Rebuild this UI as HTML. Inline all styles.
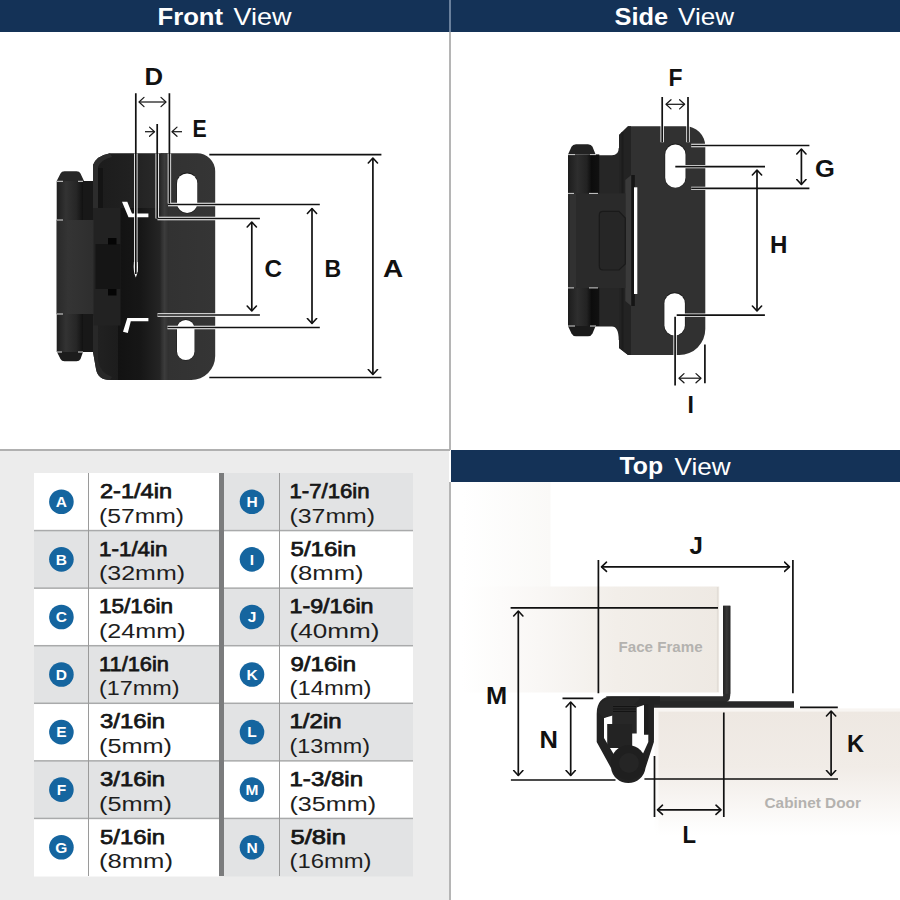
<!DOCTYPE html>
<html><head><meta charset="utf-8"><style>
html,body{margin:0;padding:0;background:#fff;width:900px;height:900px;overflow:hidden}
svg{display:block}
text{font-family:"Liberation Sans",sans-serif}
.hb{font-weight:bold;font-size:24.5px;fill:#fff}
.hr{font-weight:normal;font-size:24.5px;fill:#fff}
.lb{font-weight:bold;font-size:24.5px;fill:#111}
.cl{font-weight:bold;font-size:15.5px;fill:#fff;text-anchor:middle}
.tb{font-weight:normal;font-size:20.8px;fill:#161616;stroke:#161616;stroke-width:0.75px}
.tr{font-weight:normal;font-size:20px;fill:#1e1e1e}
.wood{font-weight:bold;font-size:14.3px;fill:#b4b2af}
</style></head><body>
<svg width="900" height="900" viewBox="0 0 900 900">
<defs>
<linearGradient id="gBarrel" x1="0" x2="1" y1="0" y2="0">
  <stop offset="0" stop-color="#1e1e1e"/><stop offset="0.35" stop-color="#333"/><stop offset="0.75" stop-color="#262626"/><stop offset="1" stop-color="#111"/>
</linearGradient>
<linearGradient id="gLowBarrel" x1="0" x2="1" y1="0" y2="0">
  <stop offset="0" stop-color="#2a2a2a"/><stop offset="0.3" stop-color="#343434"/><stop offset="1" stop-color="#2e2e2e"/>
</linearGradient>
<linearGradient id="gPlateF" x1="0" x2="1" y1="0" y2="0">
  <stop offset="0" stop-color="#222"/><stop offset="0.3" stop-color="#1a1a1a"/><stop offset="0.55" stop-color="#262626"/><stop offset="0.62" stop-color="#323232"/><stop offset="1" stop-color="#353535"/>
</linearGradient>
<linearGradient id="gBlock" x1="0" x2="1" y1="0" y2="0">
  <stop offset="0" stop-color="#242424"/><stop offset="0.6" stop-color="#161616"/><stop offset="1" stop-color="#1c1c1c"/>
</linearGradient>
<marker id="ah" viewBox="-6 -6 12 12" markerWidth="12" markerHeight="12" refX="0" refY="0" orient="auto-start-reverse" markerUnits="userSpaceOnUse">
  <path d="M-5,-4.6 L0,0 L-5,4.6" fill="none" stroke="#111" stroke-width="1.6" stroke-linecap="round" stroke-linejoin="round"/>
</marker>
<linearGradient id="gSideBarrel" x1="0" x2="1" y1="0" y2="0">
  <stop offset="0" stop-color="#1c1c1c"/><stop offset="0.3" stop-color="#2e2e2e"/><stop offset="0.6" stop-color="#222"/><stop offset="0.75" stop-color="#0c0c0c"/><stop offset="1" stop-color="#111"/>
</linearGradient>
<linearGradient id="gFF" x1="0" x2="1" y1="0" y2="0">
  <stop offset="0" stop-color="#fff"/><stop offset="0.3" stop-color="#f9f7f5"/><stop offset="0.6" stop-color="#f2eee9"/><stop offset="1" stop-color="#eee9e3"/>
</linearGradient>
<linearGradient id="gFV" x1="0" x2="1" y1="0" y2="0">
  <stop offset="0" stop-color="#fff"/><stop offset="1" stop-color="#faf9f7"/>
</linearGradient>
<linearGradient id="gCD" x1="0" x2="0" y1="0" y2="1">
  <stop offset="0" stop-color="#eee8e2"/><stop offset="0.45" stop-color="#f1ece7"/><stop offset="1" stop-color="#fff"/>
</linearGradient>
<linearGradient id="gFFb" x1="0" x2="1" y1="0" y2="0">
  <stop offset="0" stop-color="#fff" stop-opacity="0"/><stop offset="0.4" stop-color="#f0ece7"/><stop offset="1" stop-color="#e6e1db"/>
</linearGradient>
<linearGradient id="gCDo" x1="0" x2="0" y1="0" y2="1">
  <stop offset="0" stop-color="#f8f5f2"/><stop offset="0.5" stop-color="#faf8f6"/><stop offset="1" stop-color="#fff"/>
</linearGradient>
<linearGradient id="gPlateTop" x1="0" x2="1" y1="0" y2="0">
  <stop offset="0" stop-color="#1c1c1c"/><stop offset="0.5" stop-color="#202020"/><stop offset="1" stop-color="#2a2a2a"/>
</linearGradient>
<linearGradient id="gMid" x1="0" x2="1" y1="0" y2="0">
  <stop offset="0" stop-color="#121212"/><stop offset="0.5" stop-color="#161616"/><stop offset="1" stop-color="#262626"/>
</linearGradient>
<linearGradient id="gStrip" x1="0" x2="1" y1="0" y2="0">
  <stop offset="0" stop-color="#2a2a2a"/><stop offset="0.5" stop-color="#3c3c3c"/><stop offset="1" stop-color="#303030"/>
</linearGradient>
<marker id="ahs" viewBox="-6 -6 12 12" markerWidth="12" markerHeight="12" refX="0" refY="0" orient="auto-start-reverse" markerUnits="userSpaceOnUse">
  <path d="M-5,-4.6 L0,0 L-5,4.6" fill="none" stroke="#1a1a1a" stroke-width="1.25" stroke-linecap="round" stroke-linejoin="round"/>
</marker>
<linearGradient id="gArm" x1="0" x2="1" y1="0" y2="0">
  <stop offset="0" stop-color="#222"/><stop offset="0.5" stop-color="#3a3a3a"/><stop offset="1" stop-color="#262626"/>
</linearGradient>
</defs>

<rect x="0" y="451" width="449" height="449" fill="#ececec"/>
<rect x="34" y="473.00" width="185" height="58.07" fill="#ffffff"/>
<rect x="34" y="530.57" width="185" height="58.07" fill="#e2e3e4"/>
<rect x="34" y="588.14" width="185" height="58.07" fill="#ffffff"/>
<rect x="34" y="645.71" width="185" height="58.07" fill="#e2e3e4"/>
<rect x="34" y="703.29" width="185" height="58.07" fill="#ffffff"/>
<rect x="34" y="760.86" width="185" height="58.07" fill="#e2e3e4"/>
<rect x="34" y="818.43" width="185" height="58.07" fill="#ffffff"/>
<rect x="34" y="529.82" width="185" height="1.5" fill="#a9aaab"/>
<rect x="34" y="587.39" width="185" height="1.5" fill="#a9aaab"/>
<rect x="34" y="644.96" width="185" height="1.5" fill="#a9aaab"/>
<rect x="34" y="702.54" width="185" height="1.5" fill="#a9aaab"/>
<rect x="34" y="760.11" width="185" height="1.5" fill="#a9aaab"/>
<rect x="34" y="817.68" width="185" height="1.5" fill="#a9aaab"/>
<rect x="88" y="473.0" width="1" height="403.0" fill="#9a9a9a"/>
<circle cx="61.4" cy="501.80" r="12.3" fill="#15659f"/>
<text x="61.4" y="507.20" class="cl">A</text>
<circle cx="61.4" cy="559.37" r="12.3" fill="#15659f"/>
<text x="61.4" y="564.77" class="cl">B</text>
<circle cx="61.4" cy="616.94" r="12.3" fill="#15659f"/>
<text x="61.4" y="622.34" class="cl">C</text>
<circle cx="61.4" cy="674.51" r="12.3" fill="#15659f"/>
<text x="61.4" y="679.91" class="cl">D</text>
<circle cx="61.4" cy="732.09" r="12.3" fill="#15659f"/>
<text x="61.4" y="737.49" class="cl">E</text>
<circle cx="61.4" cy="789.66" r="12.3" fill="#15659f"/>
<text x="61.4" y="795.06" class="cl">F</text>
<circle cx="61.4" cy="847.23" r="12.3" fill="#15659f"/>
<text x="61.4" y="852.63" class="cl">G</text>
<rect x="224" y="473.00" width="189" height="58.07" fill="#e2e3e4"/>
<rect x="224" y="530.57" width="189" height="58.07" fill="#ffffff"/>
<rect x="224" y="588.14" width="189" height="58.07" fill="#e2e3e4"/>
<rect x="224" y="645.71" width="189" height="58.07" fill="#ffffff"/>
<rect x="224" y="703.29" width="189" height="58.07" fill="#e2e3e4"/>
<rect x="224" y="760.86" width="189" height="58.07" fill="#ffffff"/>
<rect x="224" y="818.43" width="189" height="58.07" fill="#e2e3e4"/>
<rect x="224" y="529.82" width="189" height="1.5" fill="#a9aaab"/>
<rect x="224" y="587.39" width="189" height="1.5" fill="#a9aaab"/>
<rect x="224" y="644.96" width="189" height="1.5" fill="#a9aaab"/>
<rect x="224" y="702.54" width="189" height="1.5" fill="#a9aaab"/>
<rect x="224" y="760.11" width="189" height="1.5" fill="#a9aaab"/>
<rect x="224" y="817.68" width="189" height="1.5" fill="#a9aaab"/>
<rect x="279" y="473.0" width="1" height="403.0" fill="#9a9a9a"/>
<circle cx="252" cy="501.80" r="12.3" fill="#15659f"/>
<text x="252" y="507.20" class="cl">H</text>
<circle cx="252" cy="559.37" r="12.3" fill="#15659f"/>
<text x="252" y="564.77" class="cl">I</text>
<circle cx="252" cy="616.94" r="12.3" fill="#15659f"/>
<text x="252" y="622.34" class="cl">J</text>
<circle cx="252" cy="674.51" r="12.3" fill="#15659f"/>
<text x="252" y="679.91" class="cl">K</text>
<circle cx="252" cy="732.09" r="12.3" fill="#15659f"/>
<text x="252" y="737.49" class="cl">L</text>
<circle cx="252" cy="789.66" r="12.3" fill="#15659f"/>
<text x="252" y="795.06" class="cl">M</text>
<circle cx="252" cy="847.23" r="12.3" fill="#15659f"/>
<text x="252" y="852.63" class="cl">N</text>
<rect x="219" y="473" width="5" height="403" fill="#7b7c7d"/>
<g id="front">
<!-- barrel caps -->
<path d="M56.7,181 L60.5,173.5 Q61.6,171.3 64.5,171.3 H76.5 Q79.4,171.3 80.5,173.5 L84,181 Z" fill="#262626"/>
<path d="M57,352 L60.5,359 Q61.6,361.2 64.5,361.2 H76.5 Q79.4,361.2 80.5,359 L83,352 Z" fill="#1c1c1c"/>
<!-- dark gap behind barrel -->
<rect x="80" y="181" width="16" height="171" fill="#181818"/>
<!-- main plate -->
<path d="M110,153.2 H197 A18,18 0 0 1 215.2,171.2 V356 A24,24 0 0 1 191.2,380 H110 Q98,380 96,369 L93,352 V180 L93,165 Q96,156 110,153.2 Z" fill="url(#gPlateF)"/>
<!-- upper plate shading (above block) -->
<path d="M98,158 Q104,155 112,154 H160 V208 H98 Z" fill="url(#gPlateTop)"/>
<!-- left flange lip -->
<path d="M93,180 V165 Q96,156 110,153.2 L112,157 Q101,159.5 98,167 V208 H93 Z" fill="#2c2c2c"/>
<rect x="98" y="168" width="5" height="40" fill="#141414"/>
<path d="M93,316 H98 V360 Q100,373 112,377 L110,380 Q98,380 96,369 L93,352 Z" fill="#282828"/>
<!-- middle dark region -->
<rect x="118" y="208" width="44" height="172" fill="url(#gMid)"/>
<!-- lit strip -->
<rect x="160.5" y="153.2" width="8" height="226.8" fill="url(#gStrip)"/>
<!-- barrel cylinder -->
<rect x="56.7" y="181" width="26.3" height="171" fill="url(#gBarrel)"/>
<!-- lower barrel (frame knuckle) -->
<rect x="56.7" y="220" width="37.3" height="94" fill="url(#gLowBarrel)"/>
<!-- block (frame leaf) -->
<rect x="93.5" y="208" width="27" height="117.5" fill="#222"/>
<rect x="95.5" y="244" width="25" height="45" fill="#151515"/>
<rect x="108" y="238" width="8.5" height="6.5" fill="#050505"/>
<rect x="108" y="289" width="8.5" height="6.5" fill="#050505"/>
<!-- slots -->
<rect x="176.5" y="172.6" width="21.3" height="41" rx="10.6" fill="#1a1a1a"/>
<rect x="177" y="173.4" width="20.3" height="39.6" rx="10.1" fill="#fff"/>
<rect x="176.5" y="319.2" width="18.5" height="41.2" rx="9.2" fill="#1a1a1a"/>
<rect x="177" y="320" width="17.5" height="40" rx="8.7" fill="#fff"/>
<!-- white shards -->
<path d="M122,201.8 L127.3,201.8 L132,213.4 L148.4,213.4 L148.4,217.2 L128.5,217.2 Z" fill="#fff"/>
<path d="M123,331.8 L127.3,318 L148.4,318 L148.4,321.2 L130.8,321.2 L127.8,332.9 Z" fill="#fff"/>
<!-- separator lines on barrel -->
<path d="M57,181.3 H63 M78,181.3 H83 M57,220 H63 M57,314 H63 M78,352 H83 M57,352 H62" stroke="#ddd" stroke-width="1"/>
<!-- dimension lines: halo -->
<g stroke="#fff" stroke-width="3.4" fill="none">
<path d="M135.8,153.5 V272 M169.4,153.5 V203.5 M157.2,153.5 V218.5 M168,204.5 H216 M157.5,218.5 H216 M157.5,315 H216 M167.5,327.5 H216"/>
</g>
<path d="M133.9,262 Q133,272 135.8,277.5 Q138.6,272 137.7,262 Z" fill="#fff"/>
<g stroke="#111" stroke-width="1.7" fill="none">
<path d="M135.8,93.3 V274 M169.4,93.3 V203.5 M157.2,124 V218.5"/>
<path d="M168,204.5 H319.8 M157.5,218.5 H259.9 M157.5,315 H259.9 M167.5,327.5 H319.8 M209.3,154.7 H381.4 M209.3,377.5 H381.4"/>
<path d="M139,102 H166" marker-start="url(#ahs)" marker-end="url(#ahs)" stroke-width="1.25" stroke="#1a1a1a"/>
<path d="M145,131.7 H154.5" marker-end="url(#ahs)" stroke-width="1.25" stroke="#1a1a1a"/>
<path d="M182,131.7 H172" marker-end="url(#ahs)" stroke-width="1.25" stroke="#1a1a1a"/>
<path d="M372.9,158 V374.5" marker-start="url(#ah)" marker-end="url(#ah)"/>
<path d="M312,208.5 V323.5" marker-start="url(#ah)" marker-end="url(#ah)"/>
<path d="M251.8,222 V311" marker-start="url(#ah)" marker-end="url(#ah)"/>
</g>
</g>

<g id="side">
<!-- barrel caps -->
<path d="M568,154.4 L571.5,146.8 Q572.8,144.3 576,144.3 H588 Q591.2,144.3 592.5,146.8 L595.6,154.4 Z" fill="#222"/>
<path d="M568,326 L571.5,333.6 Q572.8,336.3 576,336.3 H588 Q591.2,336.3 592.5,333.6 L595.6,326 Z" fill="#1a1a1a"/>
<!-- connecting leaf between barrel and plate -->
<path d="M590,155.3 H612 Q618.7,155.3 618.7,148 H621 V340 H618.7 Q618.7,326.4 612,326.4 H590 Z" fill="#262626"/>
<!-- plate -->
<path d="M628,126.3 H685 A20,20 0 0 1 705.3,146.3 V329 A26,26 0 0 1 679.3,355 H628 L619,348 V135 Z" fill="#313131"/>
<!-- plate left flange shading -->
<path d="M619,135 L628,126.3 H631 V355 H628 L619,348 Z" fill="#232323"/>
<rect x="621.5" y="132" width="2" height="218" fill="#1c1c1c"/>
<path d="M625.3,180 L631.3,175 V306 L625.3,301 Z" fill="#3a3a3a"/>
<rect x="631.3" y="175" width="3.5" height="131" fill="#151515"/>
<rect x="634" y="187.3" width="3.3" height="106.7" fill="#fff"/>
<!-- barrel -->
<rect x="568" y="154.4" width="31.3" height="171.6" fill="url(#gSideBarrel)"/>
<rect x="568" y="193.3" width="57.3" height="94.7" fill="#2a2a2a"/>
<rect x="570" y="193.3" width="6" height="94.7" fill="#313131"/>
<!-- bracket -->
<path d="M603,211.3 H619 L625.3,218 V264 L619,270 H603 Q599.3,270 599.3,266 V215 Q599.3,211.3 603,211.3 Z" fill="#262626" stroke="#1a1a1a" stroke-width="1.2"/>
<!-- separators -->
<path d="M568,154.6 H575 M590,154.6 H596 M568,193.4 H574 M589,193.4 H598 M568,287.9 H574 M589,287.9 H598 M568,326 H575 M590,326 H596" stroke="#cfcfcf" stroke-width="1"/>
<!-- slots -->
<rect x="664.6" y="143.6" width="21.5" height="44.4" rx="10.7" fill="#1c1c1c"/>
<rect x="665.2" y="144.6" width="20.3" height="43.2" rx="10.1" fill="#fff"/>
<rect x="663.8" y="292.3" width="21.7" height="43.5" rx="10.8" fill="#1c1c1c"/>
<rect x="664.4" y="293.3" width="20.5" height="42.3" rx="10.2" fill="#fff"/>
<!-- halos -->
<g stroke="#fff" stroke-width="3.4" fill="none">
<path d="M662.2,120 V142.3 M688,120 V142.3 M691.2,145.5 H708 M691.2,188.4 H708 M675.3,166.6 H708 M676.7,315.1 H708 M675.1,316.7 V356 M704.9,344.4 V356"/>
</g>
<g stroke="#111" stroke-width="1.7" fill="none">
<path d="M662.2,97 V142.3 M688,97 V142.3 M691.2,145.5 H809.4 M691.2,188.4 H809.4 M675.3,166.6 H765 M676.7,315.1 H764.9 M675.1,316.7 V385.6 M704.9,344.4 V383.3"/>
<path d="M666,104.3 H684.6" marker-start="url(#ahs)" marker-end="url(#ahs)" stroke-width="1.25" stroke="#1a1a1a"/>
<path d="M801.4,149 V184.5" marker-start="url(#ah)" marker-end="url(#ah)"/>
<path d="M757,170 V311" marker-start="url(#ah)" marker-end="url(#ah)"/>
<path d="M679,378.2 H701" marker-start="url(#ahs)" marker-end="url(#ahs)" stroke-width="1.25" stroke="#1a1a1a"/>
</g>
</g>

<g id="top">
<!-- wood -->
<rect x="462" y="482" width="88.5" height="105" fill="url(#gFV)"/>
<rect x="462" y="586.5" width="257.2" height="106" fill="url(#gFF)"/>
<path d="M462,587.2 H718.2" fill="none" stroke="url(#gFFb)" stroke-width="1.6"/>
<path d="M718.2,692 H462" fill="none" stroke="url(#gFFb)" stroke-width="1.4"/>
<path d="M717.6,587 V692" fill="none" stroke="#e2ddd7" stroke-width="1.4"/>
<rect x="654.5" y="708.4" width="245.5" height="127" fill="url(#gCDo)"/>
<rect x="658.5" y="711.6" width="241.5" height="124" fill="url(#gCD)"/>
<!-- hinge: frame leaf L -->
<path d="M723.1,605.8 H730.3 V695 Q730.3,703 722,703 H610 L606,696.2 H723.1 Z" fill="#2c2c2c"/>
<rect x="723.1" y="605.8" width="7.2" height="88" fill="url(#gArm)"/>
<!-- door leaf -->
<path d="M644.3,701.2 H794 V707.7 H653.7 V740 H644.3 Z" fill="#272727"/>
<!-- knuckle silhouette -->
<path d="M596.7,714 Q596.7,696.4 612,696.4 H660 V704.4 H653.9 V742 L645.5,768 A17.4,17.4 0 0 1 611,768 L596.7,742 Z" fill="#222"/>
<!-- interior white -->
<path d="M604,718 L611,716 L644,705 V734.4 H648.3 V742 L641,758 L616,758 L604,738 Z" fill="#fff"/>
<!-- top-left wedge -->
<path d="M597,712 Q598,700 612,698 L640,698 Q630,712 612,714 L604,718 Z" fill="#262626"/>
<!-- right tab -->
<rect x="644" y="704" width="4.5" height="30.5" fill="#1e1e1e"/>
<!-- screw -->
<rect x="612.2" y="705" width="24.5" height="28.5" fill="#272727"/>
<path d="M613,706.5 H636 M613,709 H636 M613,711.5 H636" stroke="#111" stroke-width="0.9"/>
<rect x="607.2" y="724" width="25" height="24" fill="#232323"/>
<!-- pin -->
<circle cx="628.3" cy="762.5" r="17.3" fill="#1f1f1f"/>
<circle cx="629" cy="763" r="10" fill="#252525"/>
<!-- halos on hinge -->
<g stroke="#fff" stroke-width="3.2" fill="none">

</g>
<g stroke="#111" stroke-width="1.7" fill="none">
<path d="M598.4,560 V693.3 M792.9,560 V693.3 M510.6,607.8 H718 M510.9,780 H615.5 M644.4,779 H838 M562.5,698.3 H593.3 M800,707.3 H837.8 M654.5,756 V817 M723.8,712.5 V817"/>
<path d="M601.5,566.8 H789.5" marker-start="url(#ah)" marker-end="url(#ah)"/>
<path d="M518.3,611 V775.5" marker-start="url(#ah)" marker-end="url(#ah)"/>
<path d="M570.7,702 V775.5" marker-start="url(#ah)" marker-end="url(#ah)"/>
<path d="M831.1,711 V775.5" marker-start="url(#ah)" marker-end="url(#ah)"/>
<path d="M657.5,809.8 H721" marker-start="url(#ah)" marker-end="url(#ah)"/>
</g>
</g>

<rect x="0" y="0" width="449" height="32" fill="#143257"/>
<rect x="451" y="0" width="449" height="32" fill="#143257"/>
<rect x="449" y="0" width="2" height="32" fill="#6a809c"/>
<rect x="449" y="32" width="2" height="418" fill="#b5b5b5"/>
<rect x="0" y="449" width="450" height="2" fill="#b0b0b0"/>
<rect x="449" y="482" width="2" height="418" fill="#b5b5b5"/>
<rect x="451" y="450" width="449" height="32" fill="#143257"/>

<text x="144.50" y="85.00" class="lb" textLength="18.57" lengthAdjust="spacingAndGlyphs">D</text>
<text x="192.50" y="136.50" class="lb" textLength="14.17" lengthAdjust="spacingAndGlyphs">E</text>
<text x="264.50" y="277.00" class="lb" textLength="17.54" lengthAdjust="spacingAndGlyphs">C</text>
<text x="324.50" y="277.00" class="lb" textLength="16.68" lengthAdjust="spacingAndGlyphs">B</text>
<text x="383.00" y="277.00" class="lb" textLength="20.18" lengthAdjust="spacingAndGlyphs">A</text>
<text x="668.50" y="86.00" class="lb" textLength="14.02" lengthAdjust="spacingAndGlyphs">F</text>
<text x="815.00" y="177.00" class="lb" textLength="19.85" lengthAdjust="spacingAndGlyphs">G</text>
<text x="770.00" y="252.50" class="lb" textLength="17.41" lengthAdjust="spacingAndGlyphs">H</text>
<text x="687.50" y="412.50" class="lb" textLength="6.40" lengthAdjust="spacingAndGlyphs">I</text>
<text x="689.50" y="554.00" class="lb" textLength="13.38" lengthAdjust="spacingAndGlyphs">J</text>
<text x="486.00" y="704.00" class="lb" textLength="21.18" lengthAdjust="spacingAndGlyphs">M</text>
<text x="539.50" y="747.50" class="lb" textLength="18.42" lengthAdjust="spacingAndGlyphs">N</text>
<text x="847.00" y="752.00" class="lb" textLength="17.08" lengthAdjust="spacingAndGlyphs">K</text>
<text x="682.50" y="842.50" class="lb" textLength="13.52" lengthAdjust="spacingAndGlyphs">L</text>
<text x="157.50" y="25.00" class="hb" textLength="65.58" lengthAdjust="spacingAndGlyphs">Front</text>
<text x="233.50" y="25.00" class="hr" textLength="58.05" lengthAdjust="spacingAndGlyphs">View</text>
<text x="614.50" y="24.60" class="hb" textLength="53.61" lengthAdjust="spacingAndGlyphs">Side</text>
<text x="678.00" y="24.60" class="hr" textLength="56.09" lengthAdjust="spacingAndGlyphs">View</text>
<text x="619.50" y="474.30" class="hb" textLength="43.57" lengthAdjust="spacingAndGlyphs">Top</text>
<text x="674.50" y="474.50" class="hr" textLength="56.13" lengthAdjust="spacingAndGlyphs">View</text>
<text x="618.50" y="651.60" class="wood" textLength="84.05" lengthAdjust="spacingAndGlyphs">Face Frame</text>
<text x="764.50" y="807.50" class="wood" textLength="96.41" lengthAdjust="spacingAndGlyphs">Cabinet Door</text>
<text x="100.00" y="498.10" class="tb" textLength="72.03" lengthAdjust="spacingAndGlyphs">2-1/4in</text>
<text x="99.00" y="522.70" class="tr" textLength="85.02" lengthAdjust="spacingAndGlyphs">(57mm)</text>
<text x="99.00" y="555.67" class="tb" textLength="68.50" lengthAdjust="spacingAndGlyphs">1-1/4in</text>
<text x="99.00" y="580.27" class="tr" textLength="86.00" lengthAdjust="spacingAndGlyphs">(32mm)</text>
<text x="99.00" y="613.24" class="tb" textLength="74.01" lengthAdjust="spacingAndGlyphs">15/16in</text>
<text x="99.00" y="637.84" class="tr" textLength="86.54" lengthAdjust="spacingAndGlyphs">(24mm)</text>
<text x="99.00" y="670.81" class="tb" textLength="69.99" lengthAdjust="spacingAndGlyphs">11/16in</text>
<text x="99.00" y="695.41" class="tr" textLength="80.54" lengthAdjust="spacingAndGlyphs">(17mm)</text>
<text x="100.00" y="728.39" class="tb" textLength="64.99" lengthAdjust="spacingAndGlyphs">3/16in</text>
<text x="99.00" y="752.99" class="tr" textLength="73.03" lengthAdjust="spacingAndGlyphs">(5mm)</text>
<text x="100.00" y="785.96" class="tb" textLength="64.99" lengthAdjust="spacingAndGlyphs">3/16in</text>
<text x="99.00" y="810.56" class="tr" textLength="73.03" lengthAdjust="spacingAndGlyphs">(5mm)</text>
<text x="100.00" y="843.53" class="tb" textLength="64.99" lengthAdjust="spacingAndGlyphs">5/16in</text>
<text x="99.00" y="868.13" class="tr" textLength="74.00" lengthAdjust="spacingAndGlyphs">(8mm)</text>
<text x="289.50" y="498.10" class="tb" textLength="80.02" lengthAdjust="spacingAndGlyphs">1-7/16in</text>
<text x="289.50" y="522.70" class="tr" textLength="85.55" lengthAdjust="spacingAndGlyphs">(37mm)</text>
<text x="290.50" y="555.67" class="tb" textLength="65.54" lengthAdjust="spacingAndGlyphs">5/16in</text>
<text x="289.50" y="580.27" class="tr" textLength="74.09" lengthAdjust="spacingAndGlyphs">(8mm)</text>
<text x="289.50" y="613.24" class="tb" textLength="84.05" lengthAdjust="spacingAndGlyphs">1-9/16in</text>
<text x="289.50" y="637.84" class="tr" textLength="90.02" lengthAdjust="spacingAndGlyphs">(40mm)</text>
<text x="290.50" y="670.81" class="tb" textLength="65.51" lengthAdjust="spacingAndGlyphs">9/16in</text>
<text x="289.50" y="695.41" class="tr" textLength="82.06" lengthAdjust="spacingAndGlyphs">(14mm)</text>
<text x="289.50" y="728.39" class="tb" textLength="52.09" lengthAdjust="spacingAndGlyphs">1/2in</text>
<text x="289.50" y="752.99" class="tr" textLength="80.53" lengthAdjust="spacingAndGlyphs">(13mm)</text>
<text x="289.50" y="785.96" class="tb" textLength="73.53" lengthAdjust="spacingAndGlyphs">1-3/8in</text>
<text x="289.50" y="810.56" class="tr" textLength="86.57" lengthAdjust="spacingAndGlyphs">(35mm)</text>
<text x="290.50" y="843.53" class="tb" textLength="55.57" lengthAdjust="spacingAndGlyphs">5/8in</text>
<text x="289.50" y="868.13" class="tr" textLength="82.06" lengthAdjust="spacingAndGlyphs">(16mm)</text>
</svg>
</body></html>
